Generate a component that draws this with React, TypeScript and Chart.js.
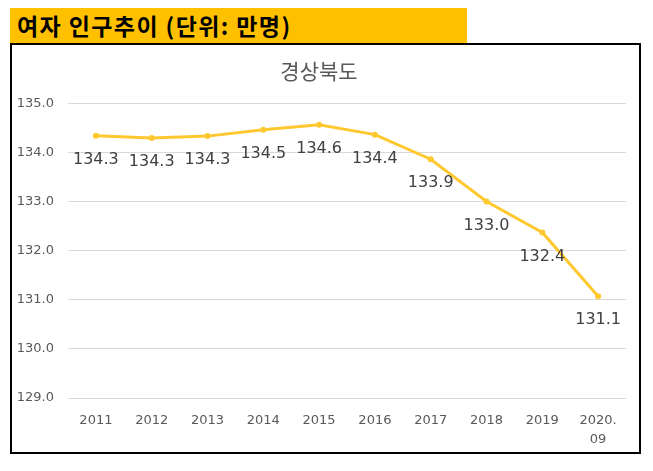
import React, { useEffect, useRef } from 'react';
import { Chart, registerables } from 'chart.js';

Chart.register(...registerables);

// data
const years: (string | string[])[] = ['2011', '2012', '2013', '2014', '2015', '2016', '2017', '2018', '2019', ['2020.', '09']];
const femalePop: number[] = [134.34, 134.29, 134.33, 134.46, 134.56, 134.36, 133.86, 133.0, 132.37, 131.07];
const yMin = 129;
const yMax = 135;

const LINE_COLOR = '#FFC82E';

// draws the value under every point, like Excel's "below" data labels
const valueLabels = {
  id: 'valueLabels',
  afterDatasetsDraw(chart: Chart) {
    const { ctx } = chart;
    const meta = chart.getDatasetMeta(0);
    ctx.save();
    ctx.font = '16px "DejaVu Sans"';
    ctx.fillStyle = '#404040';
    ctx.textAlign = 'center';
    ctx.textBaseline = 'middle';
    meta.data.forEach((pt, i) => {
      ctx.fillText(femalePop[i].toFixed(1), pt.x, pt.y + 24);
    });
    ctx.restore();
  },
};

export default function App() {
  const canvasRef = useRef<HTMLCanvasElement>(null);
  const chartRef = useRef<Chart | null>(null);

  useEffect(() => {
    if (!canvasRef.current) return;
    if (chartRef.current) chartRef.current.destroy();

    chartRef.current = new Chart(canvasRef.current, {
      type: 'line',
      data: {
        labels: years,
        datasets: [
          {
            data: femalePop,
            borderColor: LINE_COLOR,
            backgroundColor: LINE_COLOR,
            borderWidth: 3,
            pointRadius: 3,
            pointBorderWidth: 0,
            tension: 0,
          },
        ],
      },
      options: {
        responsive: false,
        animation: false,
        devicePixelRatio: 1,
        layout: { padding: { left: 0, right: 13, top: 0, bottom: 0 } },
        plugins: {
          legend: { display: false },
          tooltip: { enabled: false },
          title: {
            display: true,
            text: '경상북도',
            color: '#595959',
            font: { family: '"Noto Sans CJK KR"', size: 21, weight: 'normal' },
            padding: { top: 13, bottom: 20 },
          },
        },
        scales: {
          x: {
            offset: true,
            grid: { display: false, drawTicks: false },
            border: { display: false },
            ticks: {
              color: '#595959',
              font: { family: '"DejaVu Sans"', size: 13, lineHeight: 1.45 },
              padding: 13,
              autoSkip: false,
              maxRotation: 0,
            },
            afterFit: (scale: any) => {
              scale.height = 54;
            },
          },
          y: {
            min: yMin,
            max: yMax,
            grid: { color: '#D9D9D9', drawTicks: false },
            border: { display: false },
            ticks: {
              stepSize: 1,
              color: '#595959',
              font: { family: '"DejaVu Sans"', size: 13 },
              padding: 14,
              callback: (v: any) => Number(v).toFixed(1),
            },
            afterFit: (scale: any) => {
              scale.width = 56;
            },
          },
        },
      },
      plugins: [valueLabels],
    });

    return () => {
      if (chartRef.current) {
        chartRef.current.destroy();
        chartRef.current = null;
      }
    };
  }, []);

  return (
    <div style={{ position: 'relative', width: 633, height: 446 }}>
      <div
        style={{
          position: 'absolute',
          left: 2,
          top: 0,
          width: 457,
          height: 35,
          background: '#FFC000',
          boxSizing: 'border-box',
          paddingLeft: 7,
          fontFamily: '"Noto Sans CJK KR"',
          fontWeight: 'bold',
          fontSize: 23,
          letterSpacing: 1.4,
          lineHeight: '35px',
          color: '#000',
          whiteSpace: 'nowrap',
        }}
      >
        여자 인구추이 (단위: 만명)
      </div>
      <div
        style={{
          position: 'absolute',
          left: 2,
          top: 35,
          width: 631,
          height: 411,
          boxSizing: 'border-box',
          border: '2px solid #000',
          background: '#fff',
        }}
      >
        <canvas ref={canvasRef} width={627} height={407} style={{ display: 'block' }} />
      </div>
    </div>
  );
}
